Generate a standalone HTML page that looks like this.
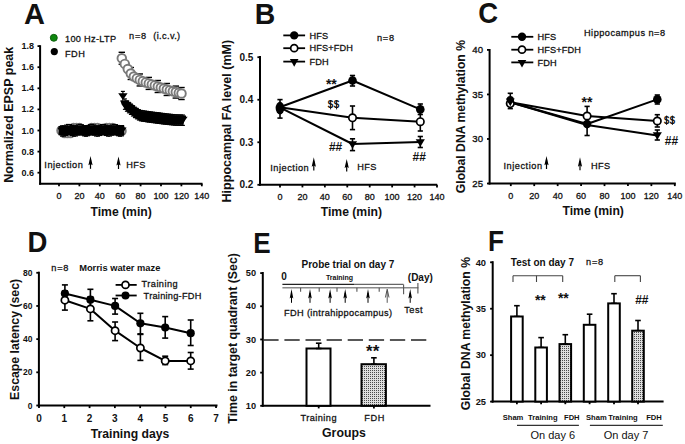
<!DOCTYPE html>
<html><head><meta charset="utf-8"><style>
html,body{margin:0;padding:0;background:#fff;}
svg{display:block;font-family:"Liberation Sans", sans-serif;}
</style></head><body>
<svg width="685" height="444" viewBox="0 0 685 444">
<defs>
<pattern id="dots" width="2" height="2" patternUnits="userSpaceOnUse">
<rect width="2" height="2" fill="#dedede"/><rect width="1" height="1" fill="#4a4a4a"/>
</pattern>
</defs>
<rect width="685" height="444" fill="#fff"/>
<text transform="translate(23.90,24.40) scale(1.0,1)" font-size="29" font-weight="bold" fill="#111">A</text>
<text transform="translate(254.74,24.20) scale(0.98,1)" font-size="29" font-weight="bold" fill="#111">B</text>
<text transform="translate(478.15,22.70) scale(0.95,1)" font-size="29" font-weight="bold" fill="#111">C</text>
<text transform="translate(27.60,251.60) scale(0.95,1)" font-size="29" font-weight="bold" fill="#111">D</text>
<text transform="translate(253.20,253.30) scale(0.9,1)" font-size="29" font-weight="bold" fill="#111">E</text>
<text transform="translate(488.00,250.50) scale(0.9,1)" font-size="29" font-weight="bold" fill="#111">F</text>
<line x1="40.10" y1="45.20" x2="40.10" y2="184.70" stroke="#000" stroke-width="2" />
<line x1="39.10" y1="183.70" x2="202.50" y2="183.70" stroke="#000" stroke-width="2" />
<line x1="37.50" y1="172.70" x2="40.10" y2="172.70" stroke="#000" stroke-width="1.8" />
<line x1="37.50" y1="151.60" x2="40.10" y2="151.60" stroke="#000" stroke-width="1.8" />
<line x1="37.50" y1="130.50" x2="40.10" y2="130.50" stroke="#000" stroke-width="1.8" />
<line x1="37.50" y1="109.40" x2="40.10" y2="109.40" stroke="#000" stroke-width="1.8" />
<line x1="37.50" y1="88.30" x2="40.10" y2="88.30" stroke="#000" stroke-width="1.8" />
<line x1="37.50" y1="67.20" x2="40.10" y2="67.20" stroke="#000" stroke-width="1.8" />
<line x1="37.50" y1="46.10" x2="40.10" y2="46.10" stroke="#000" stroke-width="1.8" />
<line x1="59.00" y1="183.70" x2="59.00" y2="186.30" stroke="#000" stroke-width="1.8" />
<line x1="79.40" y1="183.70" x2="79.40" y2="186.30" stroke="#000" stroke-width="1.8" />
<line x1="99.80" y1="183.70" x2="99.80" y2="186.30" stroke="#000" stroke-width="1.8" />
<line x1="120.20" y1="183.70" x2="120.20" y2="186.30" stroke="#000" stroke-width="1.8" />
<line x1="140.60" y1="183.70" x2="140.60" y2="186.30" stroke="#000" stroke-width="1.8" />
<line x1="161.00" y1="183.70" x2="161.00" y2="186.30" stroke="#000" stroke-width="1.8" />
<line x1="181.40" y1="183.70" x2="181.40" y2="186.30" stroke="#000" stroke-width="1.8" />
<line x1="201.80" y1="183.70" x2="201.80" y2="186.30" stroke="#000" stroke-width="1.8" />
<text x="34.00" y="175.70" font-size="9" font-weight="bold" text-anchor="end" fill="#111" >0.6</text>
<text x="34.00" y="154.60" font-size="9" font-weight="bold" text-anchor="end" fill="#111" >0.8</text>
<text x="34.00" y="133.50" font-size="9" font-weight="bold" text-anchor="end" fill="#111" >1.0</text>
<text x="34.00" y="112.40" font-size="9" font-weight="bold" text-anchor="end" fill="#111" >1.2</text>
<text x="34.00" y="91.30" font-size="9" font-weight="bold" text-anchor="end" fill="#111" >1.4</text>
<text x="34.00" y="70.20" font-size="9" font-weight="bold" text-anchor="end" fill="#111" >1.6</text>
<text x="34.00" y="49.10" font-size="9" font-weight="bold" text-anchor="end" fill="#111" >1.8</text>
<text x="59.00" y="198.70" font-size="9" font-weight="normal" text-anchor="middle" fill="#111" stroke="#111" stroke-width="0.3">0</text>
<text x="79.40" y="198.70" font-size="9" font-weight="normal" text-anchor="middle" fill="#111" stroke="#111" stroke-width="0.3">20</text>
<text x="99.80" y="198.70" font-size="9" font-weight="normal" text-anchor="middle" fill="#111" stroke="#111" stroke-width="0.3">40</text>
<text x="120.20" y="198.70" font-size="9" font-weight="normal" text-anchor="middle" fill="#111" stroke="#111" stroke-width="0.3">60</text>
<text x="140.60" y="198.70" font-size="9" font-weight="normal" text-anchor="middle" fill="#111" stroke="#111" stroke-width="0.3">80</text>
<text x="161.00" y="198.70" font-size="9" font-weight="normal" text-anchor="middle" fill="#111" stroke="#111" stroke-width="0.3">100</text>
<text x="181.40" y="198.70" font-size="9" font-weight="normal" text-anchor="middle" fill="#111" stroke="#111" stroke-width="0.3">120</text>
<text x="201.80" y="198.70" font-size="9" font-weight="normal" text-anchor="middle" fill="#111" stroke="#111" stroke-width="0.3">140</text>
<text x="121.15" y="216.40" font-size="12.2" font-weight="bold" text-anchor="middle" fill="#111" >Time (min)</text>
<text transform="translate(13.30,114.70) rotate(-90)" font-size="12.5" font-weight="bold" text-anchor="middle" fill="#111">Normalized EPSP peak</text>
<circle cx="53.80" cy="37.80" r="3.5" fill="#0f870f" stroke="#0b5a0b" stroke-width="0.9"/>
<circle cx="54.30" cy="51.60" r="3.6" fill="#000" stroke="none" stroke-width="0"/>
<text x="65.00" y="42.20" font-size="9.2" font-weight="normal" text-anchor="start" fill="#111" stroke="#111" stroke-width="0.28" letter-spacing="0.31">100 Hz-LTP</text>
<text x="65.00" y="56.60" font-size="9.2" font-weight="normal" text-anchor="start" fill="#111" stroke="#111" stroke-width="0.28" letter-spacing="0.5">FDH</text>
<text x="129.00" y="39.40" font-size="9.2" font-weight="normal" text-anchor="start" fill="#111" stroke="#111" stroke-width="0.28" letter-spacing="0.8">n=8</text>
<text x="153.30" y="39.40" font-size="9.2" font-weight="normal" text-anchor="start" fill="#111" stroke="#111" stroke-width="0.28" letter-spacing="0.36">(i.c.v.)</text>
<circle cx="61.50" cy="130.50" r="4.3" fill="#fff" stroke="#7a7a7a" stroke-width="1.9"/>
<circle cx="64.50" cy="133.00" r="4.3" fill="#fff" stroke="#7a7a7a" stroke-width="1.9"/>
<circle cx="67.50" cy="133.00" r="4.3" fill="#fff" stroke="#7a7a7a" stroke-width="1.9"/>
<circle cx="70.50" cy="133.00" r="4.3" fill="#fff" stroke="#7a7a7a" stroke-width="1.9"/>
<circle cx="73.50" cy="128.00" r="4.3" fill="#fff" stroke="#7a7a7a" stroke-width="1.9"/>
<circle cx="76.50" cy="128.00" r="4.3" fill="#fff" stroke="#7a7a7a" stroke-width="1.9"/>
<circle cx="79.50" cy="128.00" r="4.3" fill="#fff" stroke="#7a7a7a" stroke-width="1.9"/>
<circle cx="82.50" cy="130.01" r="4.3" fill="#fff" stroke="#7a7a7a" stroke-width="1.9"/>
<circle cx="85.50" cy="131.19" r="4.3" fill="#fff" stroke="#7a7a7a" stroke-width="1.9"/>
<circle cx="88.50" cy="130.82" r="4.3" fill="#fff" stroke="#7a7a7a" stroke-width="1.9"/>
<circle cx="91.50" cy="128.00" r="4.3" fill="#fff" stroke="#7a7a7a" stroke-width="1.9"/>
<circle cx="94.50" cy="128.00" r="4.3" fill="#fff" stroke="#7a7a7a" stroke-width="1.9"/>
<circle cx="97.50" cy="128.00" r="4.3" fill="#fff" stroke="#7a7a7a" stroke-width="1.9"/>
<circle cx="100.50" cy="130.41" r="4.3" fill="#fff" stroke="#7a7a7a" stroke-width="1.9"/>
<circle cx="103.50" cy="129.72" r="4.3" fill="#fff" stroke="#7a7a7a" stroke-width="1.9"/>
<circle cx="106.50" cy="128.00" r="4.3" fill="#fff" stroke="#7a7a7a" stroke-width="1.9"/>
<circle cx="109.50" cy="128.00" r="4.3" fill="#fff" stroke="#7a7a7a" stroke-width="1.9"/>
<circle cx="112.50" cy="128.00" r="4.3" fill="#fff" stroke="#7a7a7a" stroke-width="1.9"/>
<circle cx="115.50" cy="129.92" r="4.3" fill="#fff" stroke="#7a7a7a" stroke-width="1.9"/>
<circle cx="118.50" cy="131.12" r="4.3" fill="#fff" stroke="#7a7a7a" stroke-width="1.9"/>
<circle cx="121.50" cy="130.92" r="4.3" fill="#fff" stroke="#7a7a7a" stroke-width="1.9"/>
<path d="M58.5,126 L124.3,125.6 L124.3,135 L58.5,135.3 Z" fill="#000"/>
<line x1="62.00" y1="125.87" x2="62.00" y2="136.07" stroke="#000" stroke-width="1.2" />
<line x1="60.00" y1="125.87" x2="64.00" y2="125.87" stroke="#000" stroke-width="1.2" />
<line x1="60.00" y1="136.07" x2="64.00" y2="136.07" stroke="#000" stroke-width="1.2" />
<path d="M57.40,127.67 L66.60,127.67 L62.00,134.47Z" fill="#000"/>
<line x1="64.00" y1="125.89" x2="64.00" y2="136.09" stroke="#000" stroke-width="1.2" />
<line x1="62.00" y1="125.89" x2="66.00" y2="125.89" stroke="#000" stroke-width="1.2" />
<line x1="62.00" y1="136.09" x2="66.00" y2="136.09" stroke="#000" stroke-width="1.2" />
<path d="M59.40,127.69 L68.60,127.69 L64.00,134.49Z" fill="#000"/>
<line x1="66.00" y1="125.15" x2="66.00" y2="135.35" stroke="#000" stroke-width="1.2" />
<line x1="64.00" y1="125.15" x2="68.00" y2="125.15" stroke="#000" stroke-width="1.2" />
<line x1="64.00" y1="135.35" x2="68.00" y2="135.35" stroke="#000" stroke-width="1.2" />
<path d="M61.40,126.95 L70.60,126.95 L66.00,133.75Z" fill="#000"/>
<line x1="68.00" y1="124.47" x2="68.00" y2="134.67" stroke="#000" stroke-width="1.2" />
<line x1="66.00" y1="124.47" x2="70.00" y2="124.47" stroke="#000" stroke-width="1.2" />
<line x1="66.00" y1="134.67" x2="70.00" y2="134.67" stroke="#000" stroke-width="1.2" />
<path d="M63.40,126.27 L72.60,126.27 L68.00,133.07Z" fill="#000"/>
<line x1="70.00" y1="124.58" x2="70.00" y2="134.78" stroke="#000" stroke-width="1.2" />
<line x1="68.00" y1="124.58" x2="72.00" y2="124.58" stroke="#000" stroke-width="1.2" />
<line x1="68.00" y1="134.78" x2="72.00" y2="134.78" stroke="#000" stroke-width="1.2" />
<path d="M65.40,126.38 L74.60,126.38 L70.00,133.18Z" fill="#000"/>
<line x1="72.00" y1="125.37" x2="72.00" y2="135.57" stroke="#000" stroke-width="1.2" />
<line x1="70.00" y1="125.37" x2="74.00" y2="125.37" stroke="#000" stroke-width="1.2" />
<line x1="70.00" y1="135.57" x2="74.00" y2="135.57" stroke="#000" stroke-width="1.2" />
<path d="M67.40,127.17 L76.60,127.17 L72.00,133.97Z" fill="#000"/>
<line x1="74.00" y1="125.97" x2="74.00" y2="136.17" stroke="#000" stroke-width="1.2" />
<line x1="72.00" y1="125.97" x2="76.00" y2="125.97" stroke="#000" stroke-width="1.2" />
<line x1="72.00" y1="136.17" x2="76.00" y2="136.17" stroke="#000" stroke-width="1.2" />
<path d="M69.40,127.77 L78.60,127.77 L74.00,134.57Z" fill="#000"/>
<line x1="76.00" y1="125.73" x2="76.00" y2="135.93" stroke="#000" stroke-width="1.2" />
<line x1="74.00" y1="125.73" x2="78.00" y2="125.73" stroke="#000" stroke-width="1.2" />
<line x1="74.00" y1="135.93" x2="78.00" y2="135.93" stroke="#000" stroke-width="1.2" />
<path d="M71.40,127.53 L80.60,127.53 L76.00,134.33Z" fill="#000"/>
<line x1="78.00" y1="124.91" x2="78.00" y2="135.11" stroke="#000" stroke-width="1.2" />
<line x1="76.00" y1="124.91" x2="80.00" y2="124.91" stroke="#000" stroke-width="1.2" />
<line x1="76.00" y1="135.11" x2="80.00" y2="135.11" stroke="#000" stroke-width="1.2" />
<path d="M73.40,126.71 L82.60,126.71 L78.00,133.51Z" fill="#000"/>
<line x1="80.00" y1="124.40" x2="80.00" y2="134.60" stroke="#000" stroke-width="1.2" />
<line x1="78.00" y1="124.40" x2="82.00" y2="124.40" stroke="#000" stroke-width="1.2" />
<line x1="78.00" y1="134.60" x2="82.00" y2="134.60" stroke="#000" stroke-width="1.2" />
<path d="M75.40,126.20 L84.60,126.20 L80.00,133.00Z" fill="#000"/>
<line x1="82.00" y1="124.77" x2="82.00" y2="134.97" stroke="#000" stroke-width="1.2" />
<line x1="80.00" y1="124.77" x2="84.00" y2="124.77" stroke="#000" stroke-width="1.2" />
<line x1="80.00" y1="134.97" x2="84.00" y2="134.97" stroke="#000" stroke-width="1.2" />
<path d="M77.40,126.57 L86.60,126.57 L82.00,133.37Z" fill="#000"/>
<line x1="84.00" y1="125.61" x2="84.00" y2="135.81" stroke="#000" stroke-width="1.2" />
<line x1="82.00" y1="125.61" x2="86.00" y2="125.61" stroke="#000" stroke-width="1.2" />
<line x1="82.00" y1="135.81" x2="86.00" y2="135.81" stroke="#000" stroke-width="1.2" />
<path d="M79.40,127.41 L88.60,127.41 L84.00,134.21Z" fill="#000"/>
<line x1="86.00" y1="126.00" x2="86.00" y2="136.20" stroke="#000" stroke-width="1.2" />
<line x1="84.00" y1="126.00" x2="88.00" y2="126.00" stroke="#000" stroke-width="1.2" />
<line x1="84.00" y1="136.20" x2="88.00" y2="136.20" stroke="#000" stroke-width="1.2" />
<path d="M81.40,127.80 L90.60,127.80 L86.00,134.60Z" fill="#000"/>
<line x1="88.00" y1="125.52" x2="88.00" y2="135.72" stroke="#000" stroke-width="1.2" />
<line x1="86.00" y1="125.52" x2="90.00" y2="125.52" stroke="#000" stroke-width="1.2" />
<line x1="86.00" y1="135.72" x2="90.00" y2="135.72" stroke="#000" stroke-width="1.2" />
<path d="M83.40,127.32 L92.60,127.32 L88.00,134.12Z" fill="#000"/>
<line x1="90.00" y1="124.69" x2="90.00" y2="134.89" stroke="#000" stroke-width="1.2" />
<line x1="88.00" y1="124.69" x2="92.00" y2="124.69" stroke="#000" stroke-width="1.2" />
<line x1="88.00" y1="134.89" x2="92.00" y2="134.89" stroke="#000" stroke-width="1.2" />
<path d="M85.40,126.49 L94.60,126.49 L90.00,133.29Z" fill="#000"/>
<line x1="92.00" y1="124.42" x2="92.00" y2="134.62" stroke="#000" stroke-width="1.2" />
<line x1="90.00" y1="124.42" x2="94.00" y2="124.42" stroke="#000" stroke-width="1.2" />
<line x1="90.00" y1="134.62" x2="94.00" y2="134.62" stroke="#000" stroke-width="1.2" />
<path d="M87.40,126.22 L96.60,126.22 L92.00,133.02Z" fill="#000"/>
<line x1="94.00" y1="125.00" x2="94.00" y2="135.20" stroke="#000" stroke-width="1.2" />
<line x1="92.00" y1="125.00" x2="96.00" y2="125.00" stroke="#000" stroke-width="1.2" />
<line x1="92.00" y1="135.20" x2="96.00" y2="135.20" stroke="#000" stroke-width="1.2" />
<path d="M89.40,126.80 L98.60,126.80 L94.00,133.60Z" fill="#000"/>
<line x1="96.00" y1="125.80" x2="96.00" y2="136.00" stroke="#000" stroke-width="1.2" />
<line x1="94.00" y1="125.80" x2="98.00" y2="125.80" stroke="#000" stroke-width="1.2" />
<line x1="94.00" y1="136.00" x2="98.00" y2="136.00" stroke="#000" stroke-width="1.2" />
<path d="M91.40,127.60 L100.60,127.60 L96.00,134.40Z" fill="#000"/>
<line x1="98.00" y1="125.94" x2="98.00" y2="136.14" stroke="#000" stroke-width="1.2" />
<line x1="96.00" y1="125.94" x2="100.00" y2="125.94" stroke="#000" stroke-width="1.2" />
<line x1="96.00" y1="136.14" x2="100.00" y2="136.14" stroke="#000" stroke-width="1.2" />
<path d="M93.40,127.74 L102.60,127.74 L98.00,134.54Z" fill="#000"/>
<line x1="100.00" y1="125.27" x2="100.00" y2="135.47" stroke="#000" stroke-width="1.2" />
<line x1="98.00" y1="125.27" x2="102.00" y2="125.27" stroke="#000" stroke-width="1.2" />
<line x1="98.00" y1="135.47" x2="102.00" y2="135.47" stroke="#000" stroke-width="1.2" />
<path d="M95.40,127.07 L104.60,127.07 L100.00,133.87Z" fill="#000"/>
<line x1="102.00" y1="124.52" x2="102.00" y2="134.72" stroke="#000" stroke-width="1.2" />
<line x1="100.00" y1="124.52" x2="104.00" y2="124.52" stroke="#000" stroke-width="1.2" />
<line x1="100.00" y1="134.72" x2="104.00" y2="134.72" stroke="#000" stroke-width="1.2" />
<path d="M97.40,126.32 L106.60,126.32 L102.00,133.12Z" fill="#000"/>
<line x1="104.00" y1="124.51" x2="104.00" y2="134.71" stroke="#000" stroke-width="1.2" />
<line x1="102.00" y1="124.51" x2="106.00" y2="124.51" stroke="#000" stroke-width="1.2" />
<line x1="102.00" y1="134.71" x2="106.00" y2="134.71" stroke="#000" stroke-width="1.2" />
<path d="M99.40,126.31 L108.60,126.31 L104.00,133.11Z" fill="#000"/>
<line x1="106.00" y1="125.25" x2="106.00" y2="135.45" stroke="#000" stroke-width="1.2" />
<line x1="104.00" y1="125.25" x2="108.00" y2="125.25" stroke="#000" stroke-width="1.2" />
<line x1="104.00" y1="135.45" x2="108.00" y2="135.45" stroke="#000" stroke-width="1.2" />
<path d="M101.40,127.05 L110.60,127.05 L106.00,133.85Z" fill="#000"/>
<line x1="108.00" y1="125.94" x2="108.00" y2="136.14" stroke="#000" stroke-width="1.2" />
<line x1="106.00" y1="125.94" x2="110.00" y2="125.94" stroke="#000" stroke-width="1.2" />
<line x1="106.00" y1="136.14" x2="110.00" y2="136.14" stroke="#000" stroke-width="1.2" />
<path d="M103.40,127.74 L112.60,127.74 L108.00,134.54Z" fill="#000"/>
<line x1="110.00" y1="125.81" x2="110.00" y2="136.01" stroke="#000" stroke-width="1.2" />
<line x1="108.00" y1="125.81" x2="112.00" y2="125.81" stroke="#000" stroke-width="1.2" />
<line x1="108.00" y1="136.01" x2="112.00" y2="136.01" stroke="#000" stroke-width="1.2" />
<path d="M105.40,127.61 L114.60,127.61 L110.00,134.41Z" fill="#000"/>
<line x1="112.00" y1="125.02" x2="112.00" y2="135.22" stroke="#000" stroke-width="1.2" />
<line x1="110.00" y1="125.02" x2="114.00" y2="125.02" stroke="#000" stroke-width="1.2" />
<line x1="110.00" y1="135.22" x2="114.00" y2="135.22" stroke="#000" stroke-width="1.2" />
<path d="M107.40,126.82 L116.60,126.82 L112.00,133.62Z" fill="#000"/>
<line x1="114.00" y1="124.42" x2="114.00" y2="134.62" stroke="#000" stroke-width="1.2" />
<line x1="112.00" y1="124.42" x2="116.00" y2="124.42" stroke="#000" stroke-width="1.2" />
<line x1="112.00" y1="134.62" x2="116.00" y2="134.62" stroke="#000" stroke-width="1.2" />
<path d="M109.40,126.22 L118.60,126.22 L114.00,133.02Z" fill="#000"/>
<line x1="116.00" y1="124.67" x2="116.00" y2="134.87" stroke="#000" stroke-width="1.2" />
<line x1="114.00" y1="124.67" x2="118.00" y2="124.67" stroke="#000" stroke-width="1.2" />
<line x1="114.00" y1="134.87" x2="118.00" y2="134.87" stroke="#000" stroke-width="1.2" />
<path d="M111.40,126.47 L120.60,126.47 L116.00,133.27Z" fill="#000"/>
<line x1="118.00" y1="125.50" x2="118.00" y2="135.70" stroke="#000" stroke-width="1.2" />
<line x1="116.00" y1="125.50" x2="120.00" y2="125.50" stroke="#000" stroke-width="1.2" />
<line x1="116.00" y1="135.70" x2="120.00" y2="135.70" stroke="#000" stroke-width="1.2" />
<path d="M113.40,127.30 L122.60,127.30 L118.00,134.10Z" fill="#000"/>
<line x1="120.00" y1="126.00" x2="120.00" y2="136.20" stroke="#000" stroke-width="1.2" />
<line x1="118.00" y1="126.00" x2="122.00" y2="126.00" stroke="#000" stroke-width="1.2" />
<line x1="118.00" y1="136.20" x2="122.00" y2="136.20" stroke="#000" stroke-width="1.2" />
<path d="M115.40,127.80 L124.60,127.80 L120.00,134.60Z" fill="#000"/>
<line x1="122.00" y1="125.62" x2="122.00" y2="135.82" stroke="#000" stroke-width="1.2" />
<line x1="120.00" y1="125.62" x2="124.00" y2="125.62" stroke="#000" stroke-width="1.2" />
<line x1="120.00" y1="135.82" x2="124.00" y2="135.82" stroke="#000" stroke-width="1.2" />
<path d="M117.40,127.42 L126.60,127.42 L122.00,134.22Z" fill="#000"/>
<line x1="118.60" y1="52.30" x2="125.00" y2="52.30" stroke="#000" stroke-width="1.4" />
<line x1="118.60" y1="64.30" x2="125.00" y2="64.30" stroke="#000" stroke-width="1.4" />
<line x1="127.60" y1="67.50" x2="134.00" y2="67.50" stroke="#000" stroke-width="1.4" />
<line x1="127.60" y1="79.50" x2="134.00" y2="79.50" stroke="#000" stroke-width="1.4" />
<line x1="136.60" y1="73.96" x2="143.00" y2="73.96" stroke="#000" stroke-width="1.4" />
<line x1="136.60" y1="85.96" x2="143.00" y2="85.96" stroke="#000" stroke-width="1.4" />
<line x1="145.60" y1="77.41" x2="152.00" y2="77.41" stroke="#000" stroke-width="1.4" />
<line x1="145.60" y1="89.41" x2="152.00" y2="89.41" stroke="#000" stroke-width="1.4" />
<line x1="154.60" y1="80.50" x2="161.00" y2="80.50" stroke="#000" stroke-width="1.4" />
<line x1="154.60" y1="92.50" x2="161.00" y2="92.50" stroke="#000" stroke-width="1.4" />
<line x1="163.60" y1="83.48" x2="170.00" y2="83.48" stroke="#000" stroke-width="1.4" />
<line x1="163.60" y1="95.48" x2="170.00" y2="95.48" stroke="#000" stroke-width="1.4" />
<line x1="172.60" y1="86.08" x2="179.00" y2="86.08" stroke="#000" stroke-width="1.4" />
<line x1="172.60" y1="98.08" x2="179.00" y2="98.08" stroke="#000" stroke-width="1.4" />
<line x1="178.30" y1="87.52" x2="184.70" y2="87.52" stroke="#000" stroke-width="1.4" />
<line x1="178.30" y1="99.52" x2="184.70" y2="99.52" stroke="#000" stroke-width="1.4" />
<circle cx="121.80" cy="58.30" r="4.3" fill="#fff" stroke="#7a7a7a" stroke-width="1.9"/>
<circle cx="124.80" cy="63.89" r="4.3" fill="#fff" stroke="#7a7a7a" stroke-width="1.9"/>
<circle cx="127.80" cy="68.99" r="4.3" fill="#fff" stroke="#7a7a7a" stroke-width="1.9"/>
<circle cx="130.80" cy="73.50" r="4.3" fill="#fff" stroke="#7a7a7a" stroke-width="1.9"/>
<circle cx="133.80" cy="76.50" r="4.3" fill="#fff" stroke="#7a7a7a" stroke-width="1.9"/>
<circle cx="136.80" cy="78.35" r="4.3" fill="#fff" stroke="#7a7a7a" stroke-width="1.9"/>
<circle cx="139.80" cy="79.96" r="4.3" fill="#fff" stroke="#7a7a7a" stroke-width="1.9"/>
<circle cx="142.80" cy="81.21" r="4.3" fill="#fff" stroke="#7a7a7a" stroke-width="1.9"/>
<circle cx="145.80" cy="82.43" r="4.3" fill="#fff" stroke="#7a7a7a" stroke-width="1.9"/>
<circle cx="148.80" cy="83.41" r="4.3" fill="#fff" stroke="#7a7a7a" stroke-width="1.9"/>
<circle cx="151.80" cy="84.41" r="4.3" fill="#fff" stroke="#7a7a7a" stroke-width="1.9"/>
<circle cx="154.80" cy="85.46" r="4.3" fill="#fff" stroke="#7a7a7a" stroke-width="1.9"/>
<circle cx="157.80" cy="86.50" r="4.3" fill="#fff" stroke="#7a7a7a" stroke-width="1.9"/>
<circle cx="160.80" cy="87.50" r="4.3" fill="#fff" stroke="#7a7a7a" stroke-width="1.9"/>
<circle cx="163.80" cy="88.49" r="4.3" fill="#fff" stroke="#7a7a7a" stroke-width="1.9"/>
<circle cx="166.80" cy="89.48" r="4.3" fill="#fff" stroke="#7a7a7a" stroke-width="1.9"/>
<circle cx="169.80" cy="90.40" r="4.3" fill="#fff" stroke="#7a7a7a" stroke-width="1.9"/>
<circle cx="172.80" cy="91.25" r="4.3" fill="#fff" stroke="#7a7a7a" stroke-width="1.9"/>
<circle cx="175.80" cy="92.08" r="4.3" fill="#fff" stroke="#7a7a7a" stroke-width="1.9"/>
<circle cx="178.80" cy="92.84" r="4.3" fill="#fff" stroke="#7a7a7a" stroke-width="1.9"/>
<circle cx="181.50" cy="93.52" r="4.3" fill="#fff" stroke="#7a7a7a" stroke-width="1.9"/>
<path d="M120.5,100.2 L128.5,101.5 L133.0,105.1 L137.5,109.2 L142.0,111.2 L151.0,111.7 L160.0,112.5 L165.0,113.9 L175.0,115.2 L186.0,115.4 L186.0,117.2 L183.0,124.8 L175.0,124.8 L165.0,124.5 L160.0,124.0 L150.0,122.3 L146.5,122.2 L140.2,120.9 L134.8,117.7 L130.3,114.1 L125.8,110.5 L121.5,104.2Z" fill="#000"/>
<line x1="122.90" y1="91.40" x2="122.90" y2="101.80" stroke="#000" stroke-width="1.2" />
<line x1="120.90" y1="91.40" x2="124.90" y2="91.40" stroke="#000" stroke-width="1.2" />
<line x1="120.90" y1="101.80" x2="124.90" y2="101.80" stroke="#000" stroke-width="1.2" />
<path d="M118.20,93.20 L127.60,93.20 L122.90,100.00Z" fill="#000"/>
<line x1="124.90" y1="98.92" x2="124.90" y2="109.32" stroke="#000" stroke-width="1.2" />
<line x1="122.90" y1="98.92" x2="126.90" y2="98.92" stroke="#000" stroke-width="1.2" />
<line x1="122.90" y1="109.32" x2="126.90" y2="109.32" stroke="#000" stroke-width="1.2" />
<path d="M120.20,100.72 L129.60,100.72 L124.90,107.52Z" fill="#000"/>
<line x1="126.90" y1="100.82" x2="126.90" y2="111.22" stroke="#000" stroke-width="1.2" />
<line x1="124.90" y1="100.82" x2="128.90" y2="100.82" stroke="#000" stroke-width="1.2" />
<line x1="124.90" y1="111.22" x2="128.90" y2="111.22" stroke="#000" stroke-width="1.2" />
<path d="M122.20,102.62 L131.60,102.62 L126.90,109.42Z" fill="#000"/>
<line x1="128.90" y1="102.42" x2="128.90" y2="112.82" stroke="#000" stroke-width="1.2" />
<line x1="126.90" y1="102.42" x2="130.90" y2="102.42" stroke="#000" stroke-width="1.2" />
<line x1="126.90" y1="112.82" x2="130.90" y2="112.82" stroke="#000" stroke-width="1.2" />
<path d="M124.20,104.22 L133.60,104.22 L128.90,111.02Z" fill="#000"/>
<line x1="130.90" y1="104.02" x2="130.90" y2="114.42" stroke="#000" stroke-width="1.2" />
<line x1="128.90" y1="104.02" x2="132.90" y2="104.02" stroke="#000" stroke-width="1.2" />
<line x1="128.90" y1="114.42" x2="132.90" y2="114.42" stroke="#000" stroke-width="1.2" />
<path d="M126.20,105.82 L135.60,105.82 L130.90,112.62Z" fill="#000"/>
<line x1="132.90" y1="105.62" x2="132.90" y2="116.02" stroke="#000" stroke-width="1.2" />
<line x1="130.90" y1="105.62" x2="134.90" y2="105.62" stroke="#000" stroke-width="1.2" />
<line x1="130.90" y1="116.02" x2="134.90" y2="116.02" stroke="#000" stroke-width="1.2" />
<path d="M128.20,107.42 L137.60,107.42 L132.90,114.22Z" fill="#000"/>
<line x1="134.90" y1="107.22" x2="134.90" y2="117.62" stroke="#000" stroke-width="1.2" />
<line x1="132.90" y1="107.22" x2="136.90" y2="107.22" stroke="#000" stroke-width="1.2" />
<line x1="132.90" y1="117.62" x2="136.90" y2="117.62" stroke="#000" stroke-width="1.2" />
<path d="M130.20,109.02 L139.60,109.02 L134.90,115.82Z" fill="#000"/>
<line x1="136.90" y1="108.44" x2="136.90" y2="118.84" stroke="#000" stroke-width="1.2" />
<line x1="134.90" y1="108.44" x2="138.90" y2="108.44" stroke="#000" stroke-width="1.2" />
<line x1="134.90" y1="118.84" x2="138.90" y2="118.84" stroke="#000" stroke-width="1.2" />
<path d="M132.20,110.24 L141.60,110.24 L136.90,117.04Z" fill="#000"/>
<line x1="138.90" y1="109.64" x2="138.90" y2="120.04" stroke="#000" stroke-width="1.2" />
<line x1="136.90" y1="109.64" x2="140.90" y2="109.64" stroke="#000" stroke-width="1.2" />
<line x1="136.90" y1="120.04" x2="140.90" y2="120.04" stroke="#000" stroke-width="1.2" />
<path d="M134.20,111.44 L143.60,111.44 L138.90,118.24Z" fill="#000"/>
<line x1="140.90" y1="110.44" x2="140.90" y2="120.84" stroke="#000" stroke-width="1.2" />
<line x1="138.90" y1="110.44" x2="142.90" y2="110.44" stroke="#000" stroke-width="1.2" />
<line x1="138.90" y1="120.84" x2="142.90" y2="120.84" stroke="#000" stroke-width="1.2" />
<path d="M136.20,112.23 L145.60,112.23 L140.90,119.04Z" fill="#000"/>
<line x1="142.90" y1="110.73" x2="142.90" y2="121.14" stroke="#000" stroke-width="1.2" />
<line x1="140.90" y1="110.73" x2="144.90" y2="110.73" stroke="#000" stroke-width="1.2" />
<line x1="140.90" y1="121.14" x2="144.90" y2="121.14" stroke="#000" stroke-width="1.2" />
<path d="M138.20,112.53 L147.60,112.53 L142.90,119.34Z" fill="#000"/>
<line x1="144.90" y1="111.03" x2="144.90" y2="121.44" stroke="#000" stroke-width="1.2" />
<line x1="142.90" y1="111.03" x2="146.90" y2="111.03" stroke="#000" stroke-width="1.2" />
<line x1="142.90" y1="121.44" x2="146.90" y2="121.44" stroke="#000" stroke-width="1.2" />
<path d="M140.20,112.83 L149.60,112.83 L144.90,119.64Z" fill="#000"/>
<line x1="146.90" y1="111.33" x2="146.90" y2="121.73" stroke="#000" stroke-width="1.2" />
<line x1="144.90" y1="111.33" x2="148.90" y2="111.33" stroke="#000" stroke-width="1.2" />
<line x1="144.90" y1="121.73" x2="148.90" y2="121.73" stroke="#000" stroke-width="1.2" />
<path d="M142.20,113.13 L151.60,113.13 L146.90,119.94Z" fill="#000"/>
<line x1="148.90" y1="111.64" x2="148.90" y2="122.04" stroke="#000" stroke-width="1.2" />
<line x1="146.90" y1="111.64" x2="150.90" y2="111.64" stroke="#000" stroke-width="1.2" />
<line x1="146.90" y1="122.04" x2="150.90" y2="122.04" stroke="#000" stroke-width="1.2" />
<path d="M144.20,113.44 L153.60,113.44 L148.90,120.24Z" fill="#000"/>
<line x1="150.90" y1="111.92" x2="150.90" y2="122.32" stroke="#000" stroke-width="1.2" />
<line x1="148.90" y1="111.92" x2="152.90" y2="111.92" stroke="#000" stroke-width="1.2" />
<line x1="148.90" y1="122.32" x2="152.90" y2="122.32" stroke="#000" stroke-width="1.2" />
<path d="M146.20,113.72 L155.60,113.72 L150.90,120.52Z" fill="#000"/>
<line x1="152.90" y1="112.18" x2="152.90" y2="122.58" stroke="#000" stroke-width="1.2" />
<line x1="150.90" y1="112.18" x2="154.90" y2="112.18" stroke="#000" stroke-width="1.2" />
<line x1="150.90" y1="122.58" x2="154.90" y2="122.58" stroke="#000" stroke-width="1.2" />
<path d="M148.20,113.98 L157.60,113.98 L152.90,120.78Z" fill="#000"/>
<line x1="154.90" y1="112.44" x2="154.90" y2="122.84" stroke="#000" stroke-width="1.2" />
<line x1="152.90" y1="112.44" x2="156.90" y2="112.44" stroke="#000" stroke-width="1.2" />
<line x1="152.90" y1="122.84" x2="156.90" y2="122.84" stroke="#000" stroke-width="1.2" />
<path d="M150.20,114.24 L159.60,114.24 L154.90,121.04Z" fill="#000"/>
<line x1="156.90" y1="112.70" x2="156.90" y2="123.10" stroke="#000" stroke-width="1.2" />
<line x1="154.90" y1="112.70" x2="158.90" y2="112.70" stroke="#000" stroke-width="1.2" />
<line x1="154.90" y1="123.10" x2="158.90" y2="123.10" stroke="#000" stroke-width="1.2" />
<path d="M152.20,114.50 L161.60,114.50 L156.90,121.30Z" fill="#000"/>
<line x1="158.90" y1="112.96" x2="158.90" y2="123.36" stroke="#000" stroke-width="1.2" />
<line x1="156.90" y1="112.96" x2="160.90" y2="112.96" stroke="#000" stroke-width="1.2" />
<line x1="156.90" y1="123.36" x2="160.90" y2="123.36" stroke="#000" stroke-width="1.2" />
<path d="M154.20,114.76 L163.60,114.76 L158.90,121.56Z" fill="#000"/>
<line x1="160.90" y1="113.20" x2="160.90" y2="123.60" stroke="#000" stroke-width="1.2" />
<line x1="158.90" y1="113.20" x2="162.90" y2="113.20" stroke="#000" stroke-width="1.2" />
<line x1="158.90" y1="123.60" x2="162.90" y2="123.60" stroke="#000" stroke-width="1.2" />
<path d="M156.20,115.00 L165.60,115.00 L160.90,121.80Z" fill="#000"/>
<line x1="162.90" y1="113.43" x2="162.90" y2="123.83" stroke="#000" stroke-width="1.2" />
<line x1="160.90" y1="113.43" x2="164.90" y2="113.43" stroke="#000" stroke-width="1.2" />
<line x1="160.90" y1="123.83" x2="164.90" y2="123.83" stroke="#000" stroke-width="1.2" />
<path d="M158.20,115.23 L167.60,115.23 L162.90,122.03Z" fill="#000"/>
<line x1="164.90" y1="113.66" x2="164.90" y2="124.06" stroke="#000" stroke-width="1.2" />
<line x1="162.90" y1="113.66" x2="166.90" y2="113.66" stroke="#000" stroke-width="1.2" />
<line x1="162.90" y1="124.06" x2="166.90" y2="124.06" stroke="#000" stroke-width="1.2" />
<path d="M160.20,115.46 L169.60,115.46 L164.90,122.26Z" fill="#000"/>
<line x1="166.90" y1="113.88" x2="166.90" y2="124.28" stroke="#000" stroke-width="1.2" />
<line x1="164.90" y1="113.88" x2="168.90" y2="113.88" stroke="#000" stroke-width="1.2" />
<line x1="164.90" y1="124.28" x2="168.90" y2="124.28" stroke="#000" stroke-width="1.2" />
<path d="M162.20,115.68 L171.60,115.68 L166.90,122.48Z" fill="#000"/>
<line x1="168.90" y1="114.11" x2="168.90" y2="124.51" stroke="#000" stroke-width="1.2" />
<line x1="166.90" y1="114.11" x2="170.90" y2="114.11" stroke="#000" stroke-width="1.2" />
<line x1="166.90" y1="124.51" x2="170.90" y2="124.51" stroke="#000" stroke-width="1.2" />
<path d="M164.20,115.91 L173.60,115.91 L168.90,122.71Z" fill="#000"/>
<line x1="170.90" y1="114.34" x2="170.90" y2="124.74" stroke="#000" stroke-width="1.2" />
<line x1="168.90" y1="114.34" x2="172.90" y2="114.34" stroke="#000" stroke-width="1.2" />
<line x1="168.90" y1="124.74" x2="172.90" y2="124.74" stroke="#000" stroke-width="1.2" />
<path d="M166.20,116.14 L175.60,116.14 L170.90,122.94Z" fill="#000"/>
<line x1="172.90" y1="114.56" x2="172.90" y2="124.96" stroke="#000" stroke-width="1.2" />
<line x1="170.90" y1="114.56" x2="174.90" y2="114.56" stroke="#000" stroke-width="1.2" />
<line x1="170.90" y1="124.96" x2="174.90" y2="124.96" stroke="#000" stroke-width="1.2" />
<path d="M168.20,116.36 L177.60,116.36 L172.90,123.16Z" fill="#000"/>
<line x1="174.90" y1="114.79" x2="174.90" y2="125.19" stroke="#000" stroke-width="1.2" />
<line x1="172.90" y1="114.79" x2="176.90" y2="114.79" stroke="#000" stroke-width="1.2" />
<line x1="172.90" y1="125.19" x2="176.90" y2="125.19" stroke="#000" stroke-width="1.2" />
<path d="M170.20,116.59 L179.60,116.59 L174.90,123.39Z" fill="#000"/>
<line x1="176.90" y1="114.85" x2="176.90" y2="125.25" stroke="#000" stroke-width="1.2" />
<line x1="174.90" y1="114.85" x2="178.90" y2="114.85" stroke="#000" stroke-width="1.2" />
<line x1="174.90" y1="125.25" x2="178.90" y2="125.25" stroke="#000" stroke-width="1.2" />
<path d="M172.20,116.65 L181.60,116.65 L176.90,123.45Z" fill="#000"/>
<line x1="178.90" y1="114.90" x2="178.90" y2="125.30" stroke="#000" stroke-width="1.2" />
<line x1="176.90" y1="114.90" x2="180.90" y2="114.90" stroke="#000" stroke-width="1.2" />
<line x1="176.90" y1="125.30" x2="180.90" y2="125.30" stroke="#000" stroke-width="1.2" />
<path d="M174.20,116.70 L183.60,116.70 L178.90,123.50Z" fill="#000"/>
<line x1="180.90" y1="114.95" x2="180.90" y2="125.35" stroke="#000" stroke-width="1.2" />
<line x1="178.90" y1="114.95" x2="182.90" y2="114.95" stroke="#000" stroke-width="1.2" />
<line x1="178.90" y1="125.35" x2="182.90" y2="125.35" stroke="#000" stroke-width="1.2" />
<path d="M176.20,116.75 L185.60,116.75 L180.90,123.55Z" fill="#000"/>
<line x1="182.90" y1="115.00" x2="182.90" y2="125.40" stroke="#000" stroke-width="1.2" />
<line x1="180.90" y1="115.00" x2="184.90" y2="115.00" stroke="#000" stroke-width="1.2" />
<line x1="180.90" y1="125.40" x2="184.90" y2="125.40" stroke="#000" stroke-width="1.2" />
<path d="M178.20,116.80 L187.60,116.80 L182.90,123.60Z" fill="#000"/>
<text x="44.30" y="167.50" font-size="9.2" font-weight="normal" text-anchor="start" fill="#111" stroke="#111" stroke-width="0.28" letter-spacing="0.54">Injection</text>
<line x1="90.50" y1="160.00" x2="90.50" y2="168.80" stroke="#000" stroke-width="1.2" />
<path d="M90.50,156.00 L92.60,165.22 L90.50,163.92 L88.40,165.22 Z" fill="#000"/>
<line x1="118.50" y1="160.50" x2="118.50" y2="169.00" stroke="#000" stroke-width="1.2" />
<path d="M118.50,156.50 L120.60,165.50 L118.50,164.20 L116.40,165.50 Z" fill="#000"/>
<text x="126.20" y="167.50" font-size="9.2" font-weight="normal" text-anchor="start" fill="#111" stroke="#111" stroke-width="0.28" letter-spacing="0.35">HFS</text>
<line x1="260.00" y1="56.10" x2="260.00" y2="185.80" stroke="#000" stroke-width="2" />
<line x1="259.00" y1="184.80" x2="437.20" y2="184.80" stroke="#000" stroke-width="2" />
<line x1="257.40" y1="184.80" x2="260.00" y2="184.80" stroke="#000" stroke-width="1.8" />
<line x1="257.40" y1="142.27" x2="260.00" y2="142.27" stroke="#000" stroke-width="1.8" />
<line x1="257.40" y1="99.74" x2="260.00" y2="99.74" stroke="#000" stroke-width="1.8" />
<line x1="257.40" y1="57.21" x2="260.00" y2="57.21" stroke="#000" stroke-width="1.8" />
<line x1="280.00" y1="184.80" x2="280.00" y2="187.40" stroke="#000" stroke-width="1.8" />
<line x1="302.43" y1="184.80" x2="302.43" y2="187.40" stroke="#000" stroke-width="1.8" />
<line x1="324.86" y1="184.80" x2="324.86" y2="187.40" stroke="#000" stroke-width="1.8" />
<line x1="347.28" y1="184.80" x2="347.28" y2="187.40" stroke="#000" stroke-width="1.8" />
<line x1="369.71" y1="184.80" x2="369.71" y2="187.40" stroke="#000" stroke-width="1.8" />
<line x1="392.14" y1="184.80" x2="392.14" y2="187.40" stroke="#000" stroke-width="1.8" />
<line x1="414.57" y1="184.80" x2="414.57" y2="187.40" stroke="#000" stroke-width="1.8" />
<line x1="437.00" y1="184.80" x2="437.00" y2="187.40" stroke="#000" stroke-width="1.8" />
<text x="253.30" y="188.40" font-size="10" font-weight="bold" text-anchor="end" fill="#111" >0.2</text>
<text x="253.30" y="145.87" font-size="10" font-weight="bold" text-anchor="end" fill="#111" >0.3</text>
<text x="253.30" y="103.34" font-size="10" font-weight="bold" text-anchor="end" fill="#111" >0.4</text>
<text x="253.30" y="60.81" font-size="10" font-weight="bold" text-anchor="end" fill="#111" >0.5</text>
<text x="280.00" y="199.90" font-size="9" font-weight="normal" text-anchor="middle" fill="#111" stroke="#111" stroke-width="0.3">0</text>
<text x="302.43" y="199.90" font-size="9" font-weight="normal" text-anchor="middle" fill="#111" stroke="#111" stroke-width="0.3">20</text>
<text x="324.86" y="199.90" font-size="9" font-weight="normal" text-anchor="middle" fill="#111" stroke="#111" stroke-width="0.3">40</text>
<text x="347.28" y="199.90" font-size="9" font-weight="normal" text-anchor="middle" fill="#111" stroke="#111" stroke-width="0.3">60</text>
<text x="369.71" y="199.90" font-size="9" font-weight="normal" text-anchor="middle" fill="#111" stroke="#111" stroke-width="0.3">80</text>
<text x="392.14" y="199.90" font-size="9" font-weight="normal" text-anchor="middle" fill="#111" stroke="#111" stroke-width="0.3">100</text>
<text x="414.57" y="199.90" font-size="9" font-weight="normal" text-anchor="middle" fill="#111" stroke="#111" stroke-width="0.3">120</text>
<text x="437.00" y="199.90" font-size="9" font-weight="normal" text-anchor="middle" fill="#111" stroke="#111" stroke-width="0.3">140</text>
<text x="351.40" y="215.50" font-size="12.2" font-weight="bold" text-anchor="middle" fill="#111" >Time (min)</text>
<text transform="translate(231.20,121.10) rotate(-90)" font-size="12.55" font-weight="bold" text-anchor="middle" fill="#111">Hippocampal FA level (mM)</text>
<line x1="283.30" y1="35.40" x2="305.10" y2="35.40" stroke="#000" stroke-width="1.8" />
<circle cx="294.20" cy="35.40" r="4.2" fill="#000" stroke="none" stroke-width="0"/>
<text x="309.60" y="38.60" font-size="9.2" font-weight="normal" text-anchor="start" fill="#111" stroke="#111" stroke-width="0.28" letter-spacing="0.1">HFS</text>
<line x1="283.30" y1="48.20" x2="305.10" y2="48.20" stroke="#000" stroke-width="1.8" />
<circle cx="294.20" cy="48.20" r="3.5" fill="#fff" stroke="#000" stroke-width="1.7"/>
<text x="309.60" y="51.40" font-size="9.2" font-weight="normal" text-anchor="start" fill="#111" stroke="#111" stroke-width="0.28" letter-spacing="0.1">HFS+FDH</text>
<line x1="283.30" y1="61.60" x2="305.10" y2="61.60" stroke="#000" stroke-width="1.8" />
<path d="M289.90,59.10 L298.50,59.10 L294.20,66.80Z" fill="#000"/>
<text x="309.60" y="64.80" font-size="9.2" font-weight="normal" text-anchor="start" fill="#111" stroke="#111" stroke-width="0.28" letter-spacing="0.1">FDH</text>
<text x="376.90" y="40.50" font-size="9.2" font-weight="normal" text-anchor="start" fill="#111" stroke="#111" stroke-width="0.28" letter-spacing="0.8">n=8</text>
<line x1="280.00" y1="99.60" x2="280.00" y2="118.10" stroke="#000" stroke-width="1.6" />
<line x1="277.40" y1="99.60" x2="282.60" y2="99.60" stroke="#000" stroke-width="1.6" />
<line x1="277.40" y1="118.10" x2="282.60" y2="118.10" stroke="#000" stroke-width="1.6" />
<line x1="352.50" y1="75.50" x2="352.50" y2="86.00" stroke="#000" stroke-width="1.6" />
<line x1="349.90" y1="75.50" x2="355.10" y2="75.50" stroke="#000" stroke-width="1.6" />
<line x1="349.90" y1="86.00" x2="355.10" y2="86.00" stroke="#000" stroke-width="1.6" />
<line x1="420.30" y1="104.00" x2="420.30" y2="114.50" stroke="#000" stroke-width="1.6" />
<line x1="417.70" y1="104.00" x2="422.90" y2="104.00" stroke="#000" stroke-width="1.6" />
<line x1="417.70" y1="114.50" x2="422.90" y2="114.50" stroke="#000" stroke-width="1.6" />
<line x1="352.50" y1="106.00" x2="352.50" y2="129.60" stroke="#000" stroke-width="1.6" />
<line x1="349.90" y1="106.00" x2="355.10" y2="106.00" stroke="#000" stroke-width="1.6" />
<line x1="349.90" y1="129.60" x2="355.10" y2="129.60" stroke="#000" stroke-width="1.6" />
<line x1="420.30" y1="112.00" x2="420.30" y2="131.00" stroke="#000" stroke-width="1.6" />
<line x1="417.70" y1="112.00" x2="422.90" y2="112.00" stroke="#000" stroke-width="1.6" />
<line x1="417.70" y1="131.00" x2="422.90" y2="131.00" stroke="#000" stroke-width="1.6" />
<line x1="352.50" y1="138.80" x2="352.50" y2="150.60" stroke="#000" stroke-width="1.6" />
<line x1="349.90" y1="138.80" x2="355.10" y2="138.80" stroke="#000" stroke-width="1.6" />
<line x1="349.90" y1="150.60" x2="355.10" y2="150.60" stroke="#000" stroke-width="1.6" />
<line x1="420.30" y1="136.50" x2="420.30" y2="147.50" stroke="#000" stroke-width="1.6" />
<line x1="417.70" y1="136.50" x2="422.90" y2="136.50" stroke="#000" stroke-width="1.6" />
<line x1="417.70" y1="147.50" x2="422.90" y2="147.50" stroke="#000" stroke-width="1.6" />
<polyline points="279.70,107.30 352.50,80.50 420.30,109.40" fill="none" stroke="#000" stroke-width="2" stroke-linejoin="round"/>
<polyline points="279.70,107.30 352.50,117.80 420.30,121.70" fill="none" stroke="#000" stroke-width="2" stroke-linejoin="round"/>
<polyline points="279.70,107.30 352.50,144.00 420.30,142.00" fill="none" stroke="#000" stroke-width="2" stroke-linejoin="round"/>
<ellipse cx="280.00" cy="108.1" rx="4.4" ry="6.3" fill="#000"/>
<circle cx="352.50" cy="80.50" r="4.3" fill="#000" stroke="none" stroke-width="0"/>
<circle cx="420.30" cy="109.40" r="4.3" fill="#000" stroke="none" stroke-width="0"/>
<circle cx="352.50" cy="117.80" r="3.7" fill="#fff" stroke="#000" stroke-width="1.7"/>
<circle cx="420.30" cy="121.70" r="3.7" fill="#fff" stroke="#000" stroke-width="1.7"/>
<path d="M347.90,141.30 L357.10,141.30 L352.50,148.70Z" fill="#000"/>
<path d="M415.70,139.30 L424.90,139.30 L420.30,146.70Z" fill="#000"/>
<text x="325.90" y="88.80" font-size="14" font-weight="bold" text-anchor="start" fill="#111" >**</text>
<text transform="translate(327.60,108.40) scale(0.863,1)" font-size="10.43" font-weight="bold" fill="#111">S</text>
<line x1="330.60" y1="100.10" x2="330.60" y2="109.40" stroke="#111" stroke-width="1.0" />
<text transform="translate(333.60,108.40) scale(0.863,1)" font-size="10.43" font-weight="bold" fill="#111">S</text>
<line x1="336.60" y1="100.10" x2="336.60" y2="109.40" stroke="#111" stroke-width="1.0" />
<text x="328.90" y="151.00" font-size="12" font-weight="bold" text-anchor="start" fill="#111" >##</text>
<text x="412.60" y="161.00" font-size="12" font-weight="bold" text-anchor="start" fill="#111" >##</text>
<text x="270.20" y="170.50" font-size="9.2" font-weight="normal" text-anchor="start" fill="#111" stroke="#111" stroke-width="0.28" letter-spacing="0.54">Injection</text>
<line x1="313.80" y1="161.20" x2="313.80" y2="170.50" stroke="#000" stroke-width="1.2" />
<path d="M313.80,157.20 L315.90,166.70 L313.80,165.40 L311.70,166.70 Z" fill="#000"/>
<line x1="346.70" y1="163.10" x2="346.70" y2="171.60" stroke="#000" stroke-width="1.2" />
<path d="M346.70,159.10 L348.80,168.10 L346.70,166.80 L344.60,168.10 Z" fill="#000"/>
<text x="357.20" y="169.90" font-size="9.2" font-weight="normal" text-anchor="start" fill="#111" stroke="#111" stroke-width="0.28" letter-spacing="0.35">HFS</text>
<line x1="489.60" y1="49.00" x2="489.60" y2="184.50" stroke="#000" stroke-width="2" />
<line x1="488.60" y1="183.50" x2="675.80" y2="183.50" stroke="#000" stroke-width="2" />
<line x1="487.00" y1="183.50" x2="489.60" y2="183.50" stroke="#000" stroke-width="1.8" />
<line x1="487.00" y1="138.97" x2="489.60" y2="138.97" stroke="#000" stroke-width="1.8" />
<line x1="487.00" y1="94.43" x2="489.60" y2="94.43" stroke="#000" stroke-width="1.8" />
<line x1="487.00" y1="49.90" x2="489.60" y2="49.90" stroke="#000" stroke-width="1.8" />
<line x1="510.80" y1="183.50" x2="510.80" y2="186.10" stroke="#000" stroke-width="1.8" />
<line x1="534.23" y1="183.50" x2="534.23" y2="186.10" stroke="#000" stroke-width="1.8" />
<line x1="557.66" y1="183.50" x2="557.66" y2="186.10" stroke="#000" stroke-width="1.8" />
<line x1="581.08" y1="183.50" x2="581.08" y2="186.10" stroke="#000" stroke-width="1.8" />
<line x1="604.51" y1="183.50" x2="604.51" y2="186.10" stroke="#000" stroke-width="1.8" />
<line x1="627.94" y1="183.50" x2="627.94" y2="186.10" stroke="#000" stroke-width="1.8" />
<line x1="651.37" y1="183.50" x2="651.37" y2="186.10" stroke="#000" stroke-width="1.8" />
<line x1="674.80" y1="183.50" x2="674.80" y2="186.10" stroke="#000" stroke-width="1.8" />
<text x="483.00" y="186.80" font-size="9.6" font-weight="normal" text-anchor="end" fill="#111" stroke="#111" stroke-width="0.35">25</text>
<text x="483.00" y="142.27" font-size="9.6" font-weight="normal" text-anchor="end" fill="#111" stroke="#111" stroke-width="0.35">30</text>
<text x="483.00" y="97.73" font-size="9.6" font-weight="normal" text-anchor="end" fill="#111" stroke="#111" stroke-width="0.35">35</text>
<text x="483.00" y="53.20" font-size="9.6" font-weight="normal" text-anchor="end" fill="#111" stroke="#111" stroke-width="0.35">40</text>
<text x="510.80" y="198.60" font-size="9" font-weight="normal" text-anchor="middle" fill="#111" stroke="#111" stroke-width="0.3">0</text>
<text x="534.23" y="198.60" font-size="9" font-weight="normal" text-anchor="middle" fill="#111" stroke="#111" stroke-width="0.3">20</text>
<text x="557.66" y="198.60" font-size="9" font-weight="normal" text-anchor="middle" fill="#111" stroke="#111" stroke-width="0.3">40</text>
<text x="581.08" y="198.60" font-size="9" font-weight="normal" text-anchor="middle" fill="#111" stroke="#111" stroke-width="0.3">60</text>
<text x="604.51" y="198.60" font-size="9" font-weight="normal" text-anchor="middle" fill="#111" stroke="#111" stroke-width="0.3">80</text>
<text x="627.94" y="198.60" font-size="9" font-weight="normal" text-anchor="middle" fill="#111" stroke="#111" stroke-width="0.3">100</text>
<text x="651.37" y="198.60" font-size="9" font-weight="normal" text-anchor="middle" fill="#111" stroke="#111" stroke-width="0.3">120</text>
<text x="674.80" y="198.60" font-size="9" font-weight="normal" text-anchor="middle" fill="#111" stroke="#111" stroke-width="0.3">140</text>
<text x="593.20" y="215.30" font-size="12.2" font-weight="bold" text-anchor="middle" fill="#111" >Time (min)</text>
<text transform="translate(465.00,116.60) rotate(-90)" font-size="12.2" font-weight="bold" text-anchor="middle" fill="#111">Global DNA methylation %</text>
<line x1="511.30" y1="36.80" x2="533.30" y2="36.80" stroke="#000" stroke-width="1.8" />
<circle cx="522.00" cy="36.80" r="4.2" fill="#000" stroke="none" stroke-width="0"/>
<text x="537.60" y="40.00" font-size="9.2" font-weight="normal" text-anchor="start" fill="#111" stroke="#111" stroke-width="0.28" letter-spacing="0.1">HFS</text>
<line x1="511.30" y1="49.70" x2="533.30" y2="49.70" stroke="#000" stroke-width="1.8" />
<circle cx="522.00" cy="49.70" r="3.5" fill="#fff" stroke="#000" stroke-width="1.7"/>
<text x="537.60" y="52.90" font-size="9.2" font-weight="normal" text-anchor="start" fill="#111" stroke="#111" stroke-width="0.28" letter-spacing="0.1">HFS+FDH</text>
<line x1="511.30" y1="62.40" x2="533.30" y2="62.40" stroke="#000" stroke-width="1.8" />
<path d="M517.70,59.90 L526.30,59.90 L522.00,67.60Z" fill="#000"/>
<text x="537.60" y="65.60" font-size="9.2" font-weight="normal" text-anchor="start" fill="#111" stroke="#111" stroke-width="0.28" letter-spacing="0.1">FDH</text>
<text x="584.00" y="36.30" font-size="9.2" font-weight="normal" text-anchor="start" fill="#111" stroke="#111" stroke-width="0.28" letter-spacing="0.48">Hippocampus n=8</text>
<line x1="510.30" y1="93.30" x2="510.30" y2="108.60" stroke="#000" stroke-width="1.6" />
<line x1="507.70" y1="93.30" x2="512.90" y2="93.30" stroke="#000" stroke-width="1.6" />
<line x1="507.70" y1="108.60" x2="512.90" y2="108.60" stroke="#000" stroke-width="1.6" />
<line x1="587.10" y1="106.40" x2="587.10" y2="135.50" stroke="#000" stroke-width="1.6" />
<line x1="584.50" y1="106.40" x2="589.70" y2="106.40" stroke="#000" stroke-width="1.6" />
<line x1="584.50" y1="135.50" x2="589.70" y2="135.50" stroke="#000" stroke-width="1.6" />
<line x1="657.30" y1="95.00" x2="657.30" y2="104.00" stroke="#000" stroke-width="1.6" />
<line x1="654.70" y1="95.00" x2="659.90" y2="95.00" stroke="#000" stroke-width="1.6" />
<line x1="654.70" y1="104.00" x2="659.90" y2="104.00" stroke="#000" stroke-width="1.6" />
<line x1="657.30" y1="114.70" x2="657.30" y2="127.00" stroke="#000" stroke-width="1.6" />
<line x1="654.70" y1="114.70" x2="659.90" y2="114.70" stroke="#000" stroke-width="1.6" />
<line x1="654.70" y1="127.00" x2="659.90" y2="127.00" stroke="#000" stroke-width="1.6" />
<line x1="657.30" y1="130.00" x2="657.30" y2="140.00" stroke="#000" stroke-width="1.6" />
<line x1="654.70" y1="130.00" x2="659.90" y2="130.00" stroke="#000" stroke-width="1.6" />
<line x1="654.70" y1="140.00" x2="659.90" y2="140.00" stroke="#000" stroke-width="1.6" />
<polyline points="510.30,102.20 587.10,124.00 657.30,99.40" fill="none" stroke="#000" stroke-width="2" stroke-linejoin="round"/>
<polyline points="510.30,102.20 587.10,116.00 657.30,121.00" fill="none" stroke="#000" stroke-width="2" stroke-linejoin="round"/>
<polyline points="510.30,102.20 587.10,125.00 657.30,135.50" fill="none" stroke="#000" stroke-width="2" stroke-linejoin="round"/>
<circle cx="510.30" cy="103.60" r="3.7" fill="#fff" stroke="#000" stroke-width="1.8"/>
<circle cx="510.30" cy="99.60" r="3.6" fill="#000" stroke="none" stroke-width="0"/>
<path d="M505.90,98.60 L514.70,98.60 L510.30,106.20Z" fill="#000"/>
<circle cx="587.10" cy="124.00" r="4.2" fill="#000" stroke="none" stroke-width="0"/>
<path d="M582.50,121.80 L591.70,121.80 L587.10,129.20Z" fill="#000"/>
<circle cx="587.10" cy="116.00" r="3.7" fill="#fff" stroke="#000" stroke-width="1.7"/>
<circle cx="657.30" cy="99.40" r="4.3" fill="#000" stroke="none" stroke-width="0"/>
<circle cx="657.30" cy="121.00" r="3.7" fill="#fff" stroke="#000" stroke-width="1.7"/>
<path d="M652.70,132.30 L661.90,132.30 L657.30,139.70Z" fill="#000"/>
<text x="581.50" y="107.00" font-size="14" font-weight="bold" text-anchor="start" fill="#111" >**</text>
<text transform="translate(663.70,123.90) scale(0.831,1)" font-size="10.43" font-weight="bold" fill="#111">S</text>
<line x1="666.60" y1="115.60" x2="666.60" y2="124.90" stroke="#111" stroke-width="1.0" />
<text transform="translate(669.50,123.90) scale(0.831,1)" font-size="10.43" font-weight="bold" fill="#111">S</text>
<line x1="672.40" y1="115.60" x2="672.40" y2="124.90" stroke="#111" stroke-width="1.0" />
<text x="664.80" y="144.50" font-size="12" font-weight="bold" text-anchor="start" fill="#111" >##</text>
<text x="503.50" y="168.50" font-size="9.2" font-weight="normal" text-anchor="start" fill="#111" stroke="#111" stroke-width="0.28" letter-spacing="0.54">Injection</text>
<line x1="546.50" y1="160.00" x2="546.50" y2="169.00" stroke="#000" stroke-width="1.2" />
<path d="M546.50,156.00 L548.60,165.36 L546.50,164.06 L544.40,165.36 Z" fill="#000"/>
<line x1="580.00" y1="161.30" x2="580.00" y2="170.30" stroke="#000" stroke-width="1.2" />
<path d="M580.00,157.30 L582.10,166.66 L580.00,165.36 L577.90,166.66 Z" fill="#000"/>
<text x="591.00" y="169.00" font-size="9.2" font-weight="normal" text-anchor="start" fill="#111" stroke="#111" stroke-width="0.28" letter-spacing="0.35">HFS</text>
<line x1="38.90" y1="271.70" x2="38.90" y2="406.50" stroke="#000" stroke-width="2" />
<line x1="37.90" y1="405.50" x2="217.50" y2="405.50" stroke="#000" stroke-width="2" />
<line x1="36.30" y1="405.50" x2="38.90" y2="405.50" stroke="#000" stroke-width="1.8" />
<line x1="36.30" y1="372.32" x2="38.90" y2="372.32" stroke="#000" stroke-width="1.8" />
<line x1="36.30" y1="339.14" x2="38.90" y2="339.14" stroke="#000" stroke-width="1.8" />
<line x1="36.30" y1="305.96" x2="38.90" y2="305.96" stroke="#000" stroke-width="1.8" />
<line x1="36.30" y1="272.78" x2="38.90" y2="272.78" stroke="#000" stroke-width="1.8" />
<line x1="39.00" y1="405.50" x2="39.00" y2="408.10" stroke="#000" stroke-width="1.8" />
<line x1="64.29" y1="405.50" x2="64.29" y2="408.10" stroke="#000" stroke-width="1.8" />
<line x1="89.58" y1="405.50" x2="89.58" y2="408.10" stroke="#000" stroke-width="1.8" />
<line x1="114.87" y1="405.50" x2="114.87" y2="408.10" stroke="#000" stroke-width="1.8" />
<line x1="140.16" y1="405.50" x2="140.16" y2="408.10" stroke="#000" stroke-width="1.8" />
<line x1="165.45" y1="405.50" x2="165.45" y2="408.10" stroke="#000" stroke-width="1.8" />
<line x1="190.74" y1="405.50" x2="190.74" y2="408.10" stroke="#000" stroke-width="1.8" />
<line x1="216.03" y1="405.50" x2="216.03" y2="408.10" stroke="#000" stroke-width="1.8" />
<text x="32.40" y="408.50" font-size="8.5" font-weight="bold" text-anchor="end" fill="#111" >0</text>
<text x="32.40" y="375.32" font-size="8.5" font-weight="bold" text-anchor="end" fill="#111" >20</text>
<text x="32.40" y="342.14" font-size="8.5" font-weight="bold" text-anchor="end" fill="#111" >40</text>
<text x="32.40" y="308.96" font-size="8.5" font-weight="bold" text-anchor="end" fill="#111" >60</text>
<text x="32.40" y="275.78" font-size="8.5" font-weight="bold" text-anchor="end" fill="#111" >80</text>
<text x="39.00" y="422.40" font-size="10" font-weight="bold" text-anchor="middle" fill="#111" >0</text>
<text x="64.29" y="422.40" font-size="10" font-weight="bold" text-anchor="middle" fill="#111" >1</text>
<text x="89.58" y="422.40" font-size="10" font-weight="bold" text-anchor="middle" fill="#111" >2</text>
<text x="114.87" y="422.40" font-size="10" font-weight="bold" text-anchor="middle" fill="#111" >3</text>
<text x="140.16" y="422.40" font-size="10" font-weight="bold" text-anchor="middle" fill="#111" >4</text>
<text x="165.45" y="422.40" font-size="10" font-weight="bold" text-anchor="middle" fill="#111" >5</text>
<text x="190.74" y="422.40" font-size="10" font-weight="bold" text-anchor="middle" fill="#111" >6</text>
<text x="216.03" y="422.40" font-size="10" font-weight="bold" text-anchor="middle" fill="#111" >7</text>
<text x="130.00" y="438.40" font-size="12.2" font-weight="bold" text-anchor="middle" fill="#111" >Training days</text>
<text transform="translate(19.40,339.40) rotate(-90)" font-size="12.3" font-weight="bold" text-anchor="middle" fill="#111">Escape latency (sec)</text>
<text x="51.30" y="270.60" font-size="9.2" font-weight="normal" text-anchor="start" fill="#111" stroke="#111" stroke-width="0.28" letter-spacing="0.8">n=8</text>
<text x="79.20" y="270.60" font-size="9.3" font-weight="bold" text-anchor="start" fill="#111" >Morris water maze</text>
<line x1="115.60" y1="284.90" x2="136.70" y2="284.90" stroke="#000" stroke-width="1.8" />
<circle cx="125.50" cy="284.90" r="3.5" fill="#fff" stroke="#000" stroke-width="1.7"/>
<line x1="115.60" y1="295.50" x2="136.70" y2="295.50" stroke="#000" stroke-width="1.8" />
<circle cx="125.50" cy="295.50" r="4.0" fill="#000" stroke="none" stroke-width="0"/>
<text x="141.60" y="287.40" font-size="9.2" font-weight="normal" text-anchor="start" fill="#111" stroke="#111" stroke-width="0.28" letter-spacing="0.45">Training</text>
<text x="143.60" y="298.60" font-size="9.2" font-weight="normal" text-anchor="start" fill="#111" stroke="#111" stroke-width="0.28" letter-spacing="0.27">Training-FDH</text>
<line x1="64.90" y1="284.90" x2="64.90" y2="302.00" stroke="#000" stroke-width="1.6" />
<line x1="61.90" y1="284.90" x2="67.90" y2="284.90" stroke="#000" stroke-width="1.6" />
<line x1="61.90" y1="302.00" x2="67.90" y2="302.00" stroke="#000" stroke-width="1.6" />
<line x1="90.40" y1="289.30" x2="90.40" y2="310.00" stroke="#000" stroke-width="1.6" />
<line x1="87.40" y1="289.30" x2="93.40" y2="289.30" stroke="#000" stroke-width="1.6" />
<line x1="87.40" y1="310.00" x2="93.40" y2="310.00" stroke="#000" stroke-width="1.6" />
<line x1="115.10" y1="298.50" x2="115.10" y2="314.10" stroke="#000" stroke-width="1.6" />
<line x1="112.10" y1="298.50" x2="118.10" y2="298.50" stroke="#000" stroke-width="1.6" />
<line x1="112.10" y1="314.10" x2="118.10" y2="314.10" stroke="#000" stroke-width="1.6" />
<line x1="140.40" y1="313.30" x2="140.40" y2="334.40" stroke="#000" stroke-width="1.6" />
<line x1="137.40" y1="313.30" x2="143.40" y2="313.30" stroke="#000" stroke-width="1.6" />
<line x1="137.40" y1="334.40" x2="143.40" y2="334.40" stroke="#000" stroke-width="1.6" />
<line x1="165.20" y1="316.60" x2="165.20" y2="338.10" stroke="#000" stroke-width="1.6" />
<line x1="162.20" y1="316.60" x2="168.20" y2="316.60" stroke="#000" stroke-width="1.6" />
<line x1="162.20" y1="338.10" x2="168.20" y2="338.10" stroke="#000" stroke-width="1.6" />
<line x1="190.70" y1="320.00" x2="190.70" y2="345.50" stroke="#000" stroke-width="1.6" />
<line x1="187.70" y1="320.00" x2="193.70" y2="320.00" stroke="#000" stroke-width="1.6" />
<line x1="187.70" y1="345.50" x2="193.70" y2="345.50" stroke="#000" stroke-width="1.6" />
<line x1="64.90" y1="291.00" x2="64.90" y2="310.10" stroke="#000" stroke-width="1.6" />
<line x1="61.90" y1="291.00" x2="67.90" y2="291.00" stroke="#000" stroke-width="1.6" />
<line x1="61.90" y1="310.10" x2="67.90" y2="310.10" stroke="#000" stroke-width="1.6" />
<line x1="90.40" y1="297.00" x2="90.40" y2="320.80" stroke="#000" stroke-width="1.6" />
<line x1="87.40" y1="297.00" x2="93.40" y2="297.00" stroke="#000" stroke-width="1.6" />
<line x1="87.40" y1="320.80" x2="93.40" y2="320.80" stroke="#000" stroke-width="1.6" />
<line x1="115.10" y1="322.00" x2="115.10" y2="340.60" stroke="#000" stroke-width="1.6" />
<line x1="112.10" y1="322.00" x2="118.10" y2="322.00" stroke="#000" stroke-width="1.6" />
<line x1="112.10" y1="340.60" x2="118.10" y2="340.60" stroke="#000" stroke-width="1.6" />
<line x1="140.40" y1="333.90" x2="140.40" y2="360.40" stroke="#000" stroke-width="1.6" />
<line x1="137.40" y1="333.90" x2="143.40" y2="333.90" stroke="#000" stroke-width="1.6" />
<line x1="137.40" y1="360.40" x2="143.40" y2="360.40" stroke="#000" stroke-width="1.6" />
<line x1="165.20" y1="356.20" x2="165.20" y2="364.60" stroke="#000" stroke-width="1.6" />
<line x1="162.20" y1="356.20" x2="168.20" y2="356.20" stroke="#000" stroke-width="1.6" />
<line x1="162.20" y1="364.60" x2="168.20" y2="364.60" stroke="#000" stroke-width="1.6" />
<line x1="190.70" y1="352.50" x2="190.70" y2="369.10" stroke="#000" stroke-width="1.6" />
<line x1="187.70" y1="352.50" x2="193.70" y2="352.50" stroke="#000" stroke-width="1.6" />
<line x1="187.70" y1="369.10" x2="193.70" y2="369.10" stroke="#000" stroke-width="1.6" />
<polyline points="64.90,293.50 90.40,299.70 115.10,305.90 140.40,323.30 165.20,327.50 190.70,333.20" fill="none" stroke="#000" stroke-width="2" stroke-linejoin="round"/>
<polyline points="64.90,300.20 90.40,308.90 115.10,330.70 140.40,348.00 165.20,360.90 190.70,360.90" fill="none" stroke="#000" stroke-width="2" stroke-linejoin="round"/>
<circle cx="64.90" cy="293.50" r="4.1" fill="#000" stroke="none" stroke-width="0"/>
<circle cx="90.40" cy="299.70" r="4.1" fill="#000" stroke="none" stroke-width="0"/>
<circle cx="115.10" cy="305.90" r="4.1" fill="#000" stroke="none" stroke-width="0"/>
<circle cx="140.40" cy="323.30" r="4.1" fill="#000" stroke="none" stroke-width="0"/>
<circle cx="165.20" cy="327.50" r="4.1" fill="#000" stroke="none" stroke-width="0"/>
<circle cx="190.70" cy="333.20" r="4.1" fill="#000" stroke="none" stroke-width="0"/>
<circle cx="64.90" cy="300.20" r="3.6" fill="#fff" stroke="#000" stroke-width="1.7"/>
<circle cx="90.40" cy="308.90" r="3.6" fill="#fff" stroke="#000" stroke-width="1.7"/>
<circle cx="115.10" cy="330.70" r="3.6" fill="#fff" stroke="#000" stroke-width="1.7"/>
<circle cx="140.40" cy="348.00" r="3.6" fill="#fff" stroke="#000" stroke-width="1.7"/>
<circle cx="165.20" cy="360.90" r="3.6" fill="#fff" stroke="#000" stroke-width="1.7"/>
<circle cx="190.70" cy="360.90" r="3.6" fill="#fff" stroke="#000" stroke-width="1.7"/>
<line x1="262.80" y1="272.00" x2="262.80" y2="406.80" stroke="#000" stroke-width="2" />
<line x1="261.80" y1="405.80" x2="430.50" y2="405.80" stroke="#000" stroke-width="2" />
<line x1="260.20" y1="405.80" x2="262.80" y2="405.80" stroke="#000" stroke-width="1.8" />
<line x1="260.20" y1="372.62" x2="262.80" y2="372.62" stroke="#000" stroke-width="1.8" />
<line x1="260.20" y1="339.45" x2="262.80" y2="339.45" stroke="#000" stroke-width="1.8" />
<line x1="260.20" y1="306.28" x2="262.80" y2="306.28" stroke="#000" stroke-width="1.8" />
<line x1="260.20" y1="273.10" x2="262.80" y2="273.10" stroke="#000" stroke-width="1.8" />
<line x1="318.70" y1="405.80" x2="318.70" y2="408.40" stroke="#000" stroke-width="1.8" />
<line x1="373.90" y1="405.80" x2="373.90" y2="408.40" stroke="#000" stroke-width="1.8" />
<text x="256.00" y="408.90" font-size="9.2" font-weight="bold" text-anchor="end" fill="#111" >10</text>
<text x="256.00" y="375.73" font-size="9.2" font-weight="bold" text-anchor="end" fill="#111" >20</text>
<text x="256.00" y="342.55" font-size="9.2" font-weight="bold" text-anchor="end" fill="#111" >30</text>
<text x="256.00" y="309.38" font-size="9.2" font-weight="bold" text-anchor="end" fill="#111" >40</text>
<text x="256.00" y="276.20" font-size="9.2" font-weight="bold" text-anchor="end" fill="#111" >50</text>
<text transform="translate(236.80,338.40) rotate(-90)" font-size="12.35" font-weight="bold" text-anchor="middle" fill="#111">Time in target quadrant (Sec)</text>
<text x="301.50" y="267.90" font-size="10" font-weight="bold" text-anchor="start" fill="#111" >Probe trial on day 7</text>
<text x="281.20" y="279.80" font-size="10" font-weight="bold" text-anchor="start" fill="#111" >0</text>
<text x="325.90" y="280.30" font-size="7" font-weight="bold" text-anchor="start" fill="#111" >Training</text>
<text x="407.80" y="281.00" font-size="10" font-weight="bold" text-anchor="start" fill="#111" >(Day)</text>
<line x1="282.40" y1="284.40" x2="354.00" y2="284.40" stroke="#222" stroke-width="1.2" />
<line x1="354.00" y1="284.40" x2="403.50" y2="284.40" stroke="#666" stroke-width="1.2" />
<line x1="282.40" y1="287.80" x2="418.40" y2="287.80" stroke="#8a8a8a" stroke-width="1.5" />
<line x1="300.60" y1="287.80" x2="300.60" y2="291.70" stroke="#555" stroke-width="1.1" />
<line x1="319.20" y1="287.80" x2="319.20" y2="291.70" stroke="#555" stroke-width="1.1" />
<line x1="337.00" y1="287.80" x2="337.00" y2="291.70" stroke="#555" stroke-width="1.1" />
<line x1="356.90" y1="287.80" x2="356.90" y2="291.70" stroke="#555" stroke-width="1.1" />
<line x1="379.20" y1="287.80" x2="379.20" y2="291.70" stroke="#555" stroke-width="1.1" />
<line x1="403.60" y1="284.40" x2="403.60" y2="294.30" stroke="#555" stroke-width="1.1" />
<line x1="417.90" y1="283.00" x2="417.90" y2="293.50" stroke="#555" stroke-width="1.1" />
<line x1="291.50" y1="292.90" x2="291.50" y2="302.80" stroke="#000" stroke-width="1.0" />
<path d="M291.50,288.90 L293.30,298.40 L291.50,297.10 L289.70,298.40 Z" fill="#000"/>
<line x1="310.00" y1="292.90" x2="310.00" y2="302.80" stroke="#000" stroke-width="1.0" />
<path d="M310.00,288.90 L311.80,298.40 L310.00,297.10 L308.20,298.40 Z" fill="#000"/>
<line x1="330.10" y1="292.90" x2="330.10" y2="302.80" stroke="#000" stroke-width="1.0" />
<path d="M330.10,288.90 L331.90,298.40 L330.10,297.10 L328.30,298.40 Z" fill="#000"/>
<line x1="345.20" y1="292.90" x2="345.20" y2="302.80" stroke="#000" stroke-width="1.0" />
<path d="M345.20,288.90 L347.00,298.40 L345.20,297.10 L343.40,298.40 Z" fill="#000"/>
<line x1="368.00" y1="292.90" x2="368.00" y2="302.80" stroke="#000" stroke-width="1.0" />
<path d="M368.00,288.90 L369.80,298.40 L368.00,297.10 L366.20,298.40 Z" fill="#000"/>
<line x1="410.20" y1="292.90" x2="410.20" y2="302.80" stroke="#000" stroke-width="1.0" />
<path d="M410.20,288.90 L412.00,298.40 L410.20,297.10 L408.40,298.40 Z" fill="#000"/>
<path d="M387.2,289.2 L389.0,297.5 M387.2,289.2 L385.4,297.5" stroke="#444" stroke-width="0.9" fill="none"/>
<line x1="387.20" y1="291.00" x2="387.20" y2="302.80" stroke="#444" stroke-width="0.9" />
<text x="283.90" y="315.60" font-size="9.2" font-weight="normal" text-anchor="start" fill="#111" stroke="#111" stroke-width="0.28" letter-spacing="0.39">FDH (intrahippocampus)</text>
<text x="404.20" y="313.40" font-size="9.2" font-weight="normal" text-anchor="start" fill="#111" stroke="#111" stroke-width="0.28" letter-spacing="0.5">Test</text>
<line x1="263.30" y1="340.00" x2="428.00" y2="340.00" stroke="#222" stroke-width="1.5" stroke-dasharray="15.3 5.8"/>
<rect x="306.5" y="348.5" width="24" height="57.3" fill="#fff" stroke="#000" stroke-width="2"/>
<line x1="318.70" y1="343.20" x2="318.70" y2="348.50" stroke="#000" stroke-width="1.6" />
<line x1="315.90" y1="343.20" x2="321.50" y2="343.20" stroke="#000" stroke-width="1.6" />
<line x1="315.90" y1="348.50" x2="321.50" y2="348.50" stroke="#000" stroke-width="1.6" />
<rect x="361.5" y="364.2" width="24.4" height="41.6" fill="url(#dots)" stroke="#000" stroke-width="2"/>
<line x1="373.90" y1="357.80" x2="373.90" y2="364.20" stroke="#000" stroke-width="1.6" />
<line x1="371.10" y1="357.80" x2="376.70" y2="357.80" stroke="#000" stroke-width="1.6" />
<line x1="371.10" y1="364.20" x2="376.70" y2="364.20" stroke="#000" stroke-width="1.6" />
<text x="366.10" y="357.00" font-size="17" font-weight="bold" text-anchor="start" fill="#111" >**</text>
<text x="300.50" y="421.00" font-size="9.2" font-weight="normal" text-anchor="start" fill="#111" stroke="#111" stroke-width="0.28" letter-spacing="0.45">Training</text>
<text x="364.30" y="421.00" font-size="9.2" font-weight="normal" text-anchor="start" fill="#111" stroke="#111" stroke-width="0.28" letter-spacing="0.55">FDH</text>
<text x="343.90" y="436.50" font-size="12.3" font-weight="bold" text-anchor="middle" fill="#111" >Groups</text>
<line x1="492.70" y1="261.20" x2="492.70" y2="402.60" stroke="#000" stroke-width="2" />
<line x1="491.70" y1="401.60" x2="663.60" y2="401.60" stroke="#000" stroke-width="2" />
<line x1="490.10" y1="401.60" x2="492.70" y2="401.60" stroke="#000" stroke-width="1.8" />
<line x1="490.10" y1="355.17" x2="492.70" y2="355.17" stroke="#000" stroke-width="1.8" />
<line x1="490.10" y1="308.73" x2="492.70" y2="308.73" stroke="#000" stroke-width="1.8" />
<line x1="490.10" y1="262.30" x2="492.70" y2="262.30" stroke="#000" stroke-width="1.8" />
<line x1="516.90" y1="401.60" x2="516.90" y2="404.20" stroke="#000" stroke-width="1.8" />
<line x1="541.10" y1="401.60" x2="541.10" y2="404.20" stroke="#000" stroke-width="1.8" />
<line x1="565.30" y1="401.60" x2="565.30" y2="404.20" stroke="#000" stroke-width="1.8" />
<line x1="589.60" y1="401.60" x2="589.60" y2="404.20" stroke="#000" stroke-width="1.8" />
<line x1="614.00" y1="401.60" x2="614.00" y2="404.20" stroke="#000" stroke-width="1.8" />
<line x1="638.00" y1="401.60" x2="638.00" y2="404.20" stroke="#000" stroke-width="1.8" />
<text x="486.00" y="404.80" font-size="9.3" font-weight="bold" text-anchor="end" fill="#111" >25</text>
<text x="486.00" y="358.37" font-size="9.3" font-weight="bold" text-anchor="end" fill="#111" >30</text>
<text x="486.00" y="311.93" font-size="9.3" font-weight="bold" text-anchor="end" fill="#111" >35</text>
<text x="486.00" y="265.50" font-size="9.3" font-weight="bold" text-anchor="end" fill="#111" >40</text>
<text transform="translate(470.30,333.65) rotate(-90)" font-size="12.2" font-weight="bold" text-anchor="middle" fill="#111">Global DNA methylation %</text>
<text x="510.80" y="266.20" font-size="10" font-weight="bold" text-anchor="start" fill="#111" >Test on day 7</text>
<text x="586.00" y="265.40" font-size="9.2" font-weight="normal" text-anchor="start" fill="#111" stroke="#111" stroke-width="0.28" letter-spacing="0.8">n=8</text>
<line x1="513.00" y1="275.70" x2="562.70" y2="275.70" stroke="#444" stroke-width="1.1" />
<line x1="513.00" y1="275.70" x2="513.00" y2="282.00" stroke="#444" stroke-width="1.1" />
<line x1="536.50" y1="275.70" x2="536.50" y2="282.00" stroke="#444" stroke-width="1.1" />
<line x1="562.70" y1="275.70" x2="562.70" y2="282.00" stroke="#444" stroke-width="1.1" />
<line x1="614.80" y1="275.70" x2="640.40" y2="275.70" stroke="#444" stroke-width="1.1" />
<line x1="614.80" y1="275.70" x2="614.80" y2="282.00" stroke="#444" stroke-width="1.1" />
<line x1="640.40" y1="275.70" x2="640.40" y2="282.00" stroke="#444" stroke-width="1.1" />
<text x="534.90" y="304.60" font-size="14" font-weight="bold" text-anchor="start" fill="#111" >**</text>
<text x="557.90" y="303.10" font-size="14" font-weight="bold" text-anchor="start" fill="#111" >**</text>
<text x="635.20" y="304.40" font-size="12" font-weight="bold" text-anchor="start" fill="#111" >##</text>
<line x1="516.90" y1="305.70" x2="516.90" y2="316.50" stroke="#000" stroke-width="1.6" />
<line x1="514.10" y1="305.70" x2="519.70" y2="305.70" stroke="#000" stroke-width="1.6" />
<line x1="514.10" y1="316.50" x2="519.70" y2="316.50" stroke="#000" stroke-width="1.6" />
<rect x="511.10" y="316.50" width="11.6" height="85.10" fill="#fff" stroke="#000" stroke-width="2"/>
<line x1="541.10" y1="337.60" x2="541.10" y2="347.50" stroke="#000" stroke-width="1.6" />
<line x1="538.30" y1="337.60" x2="543.90" y2="337.60" stroke="#000" stroke-width="1.6" />
<line x1="538.30" y1="347.50" x2="543.90" y2="347.50" stroke="#000" stroke-width="1.6" />
<rect x="535.30" y="347.50" width="11.6" height="54.10" fill="#fff" stroke="#000" stroke-width="2"/>
<line x1="565.30" y1="334.70" x2="565.30" y2="344.10" stroke="#000" stroke-width="1.6" />
<line x1="562.50" y1="334.70" x2="568.10" y2="334.70" stroke="#000" stroke-width="1.6" />
<line x1="562.50" y1="344.10" x2="568.10" y2="344.10" stroke="#000" stroke-width="1.6" />
<rect x="559.50" y="344.10" width="11.6" height="57.50" fill="url(#dots)" stroke="#000" stroke-width="2"/>
<line x1="589.60" y1="314.20" x2="589.60" y2="324.80" stroke="#000" stroke-width="1.6" />
<line x1="586.80" y1="314.20" x2="592.40" y2="314.20" stroke="#000" stroke-width="1.6" />
<line x1="586.80" y1="324.80" x2="592.40" y2="324.80" stroke="#000" stroke-width="1.6" />
<rect x="583.80" y="324.80" width="11.6" height="76.80" fill="#fff" stroke="#000" stroke-width="2"/>
<line x1="614.00" y1="293.70" x2="614.00" y2="303.40" stroke="#000" stroke-width="1.6" />
<line x1="611.20" y1="293.70" x2="616.80" y2="293.70" stroke="#000" stroke-width="1.6" />
<line x1="611.20" y1="303.40" x2="616.80" y2="303.40" stroke="#000" stroke-width="1.6" />
<rect x="608.20" y="303.40" width="11.6" height="98.20" fill="#fff" stroke="#000" stroke-width="2"/>
<line x1="638.00" y1="320.50" x2="638.00" y2="330.70" stroke="#000" stroke-width="1.6" />
<line x1="635.20" y1="320.50" x2="640.80" y2="320.50" stroke="#000" stroke-width="1.6" />
<line x1="635.20" y1="330.70" x2="640.80" y2="330.70" stroke="#000" stroke-width="1.6" />
<rect x="632.20" y="330.70" width="11.6" height="70.90" fill="url(#dots)" stroke="#000" stroke-width="2"/>
<text x="502.70" y="420.00" font-size="7.6" font-weight="bold" text-anchor="start" fill="#111" >Sham</text>
<text x="528.00" y="420.00" font-size="7.6" font-weight="bold" text-anchor="start" fill="#111" >Training</text>
<text x="564.00" y="420.00" font-size="7.6" font-weight="bold" text-anchor="start" fill="#111" >FDH</text>
<text x="586.00" y="420.00" font-size="7.6" font-weight="bold" text-anchor="start" fill="#111" >Sham</text>
<text x="608.20" y="420.00" font-size="7.6" font-weight="bold" text-anchor="start" fill="#111" >Training</text>
<text x="646.20" y="420.00" font-size="7.6" font-weight="bold" text-anchor="start" fill="#111" >FDH</text>
<line x1="517.00" y1="425.40" x2="578.90" y2="425.40" stroke="#333" stroke-width="1.2" />
<line x1="589.90" y1="425.40" x2="662.80" y2="425.40" stroke="#333" stroke-width="1.2" />
<text x="530.50" y="438.80" font-size="11" font-weight="normal" text-anchor="start" fill="#111" >On day 6</text>
<text x="603.70" y="438.80" font-size="11" font-weight="normal" text-anchor="start" fill="#111" >On day 7</text>
</svg>
</body></html>
